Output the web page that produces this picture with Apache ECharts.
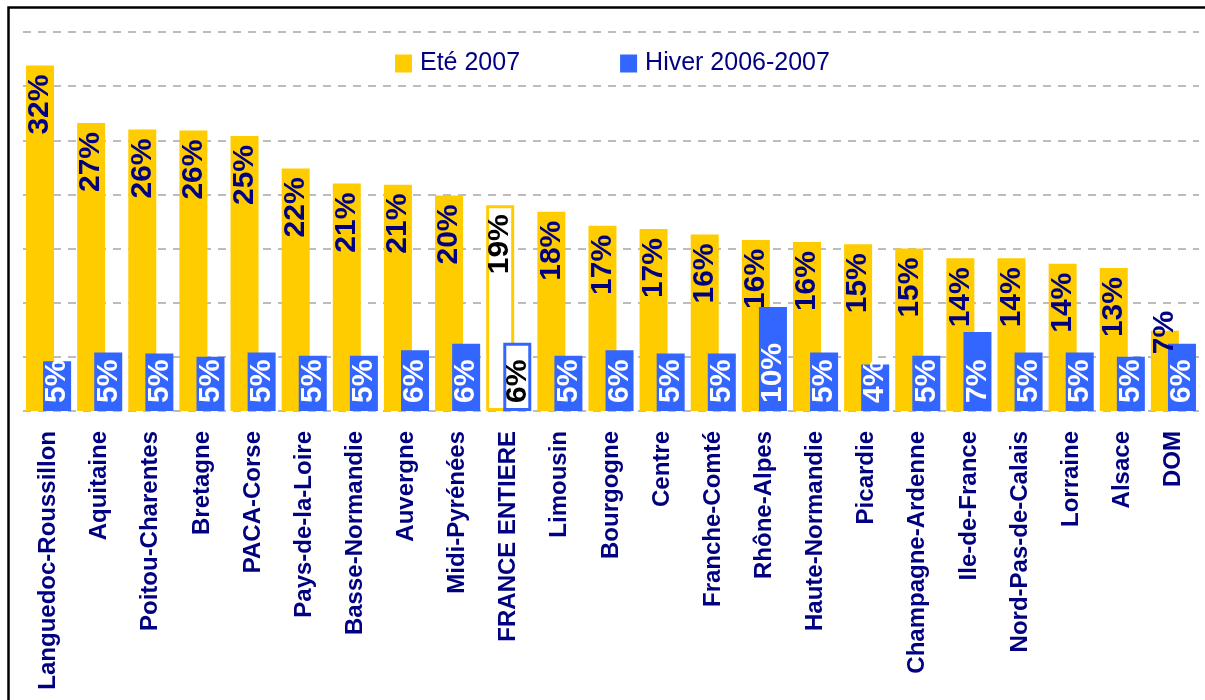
<!DOCTYPE html>
<html>
<head>
<meta charset="utf-8">
<script src="https://cdn.jsdelivr.net/npm/echarts@6/dist/echarts.min.js"></script>
<style>
  html, body { margin: 0; padding: 0; background: #fff; }
  #chart { width: 1205px; height: 700px; }
</style>
</head>
<body>
<div id="chart"></div>
<script>
// régions, triées par taux d'été
const regions = [
  "Languedoc-Roussillon", "Aquitaine", "Poitou-Charentes", "Bretagne", "PACA-Corse",
  "Pays-de-la-Loire", "Basse-Normandie", "Auvergne", "Midi-Pyrénées", "FRANCE ENTIERE",
  "Limousin", "Bourgogne", "Centre", "Franche-Comté", "Rhône-Alpes", "Haute-Normandie",
  "Picardie", "Champagne-Ardenne", "Ile-de-France", "Nord-Pas-de-Calais", "Lorraine",
  "Alsace", "DOM"
];
const ete2007 = [31.9, 26.6, 26.0, 25.9, 25.4, 22.4, 21.0, 20.9, 19.9, 19.0, 18.4, 17.1,
  16.8, 16.3, 15.8, 15.6, 15.4, 15.0, 14.1, 14.1, 13.6, 13.2, 7.4];
const hiver2007 = [4.6, 5.4, 5.3, 5.0, 5.4, 5.1, 5.1, 5.6, 6.2, 6.3, 5.1, 5.6,
  5.3, 5.3, 9.6, 5.4, 4.3, 5.1, 7.3, 5.4, 5.4, 5.0, 6.2];
const yTicks = [0, 5, 10, 15, 20, 25, 30, 35];

const YELLOW = "#FFCC00";
const BLUE = "#3366FF";
const NAVY = "#000080";
const FONT = "Liberation Sans, Arial, sans-serif";
const TOTAL = "FRANCE ENTIERE";

const myChart = echarts.init(document.getElementById("chart"));

// la barre France entière est vide, juste bordée
function bars(values, color) {
  return values.map((v, i) => {
    if (regions[i] !== TOTAL) return v;
    return {
      value: v,
      itemStyle: { color: "#fff", borderColor: color, borderWidth: 3 },
      label: { color: "#000" }
    };
  });
}

const eteData = bars(ete2007, YELLOW);
// étiquette du DOM qui dépasse de la barre
eteData[regions.indexOf("DOM")] = { value: ete2007[22], label: { distance: -20 } };

myChart.setOption({
  animation: false,
  textStyle: { fontFamily: FONT },
  graphic: [{
    type: "rect",
    shape: { x: 8.5, y: 7.5, width: 1400, height: 900 },
    style: { fill: "none", stroke: "#000", lineWidth: 2.5 },
    silent: true
  }],
  legend: {
    left: 390,
    top: 46,
    itemWidth: 17,
    itemHeight: 18,
    itemGap: 100,
    icon: "rect",
    textStyle: { fontSize: 25, color: NAVY, fontFamily: FONT, padding: [0, 0, 0, 3] },
    data: ["Eté 2007", "Hiver 2006-2007"]
  },
  grid: { left: 23, right: 6, top: 32, bottom: 289 },
  xAxis: {
    type: "category",
    data: regions,
    axisLine: { show: false },
    axisTick: { show: false },
    axisLabel: {
      rotate: 90,
      margin: 20,
      interval: 0,
      fontSize: 24,
      fontWeight: "bold",
      color: NAVY,
      fontFamily: FONT
    }
  },
  yAxis: {
    type: "value",
    min: yTicks[0],
    max: yTicks[yTicks.length - 1],
    interval: 5,
    axisLabel: { show: false },
    axisLine: { show: false },
    axisTick: { show: false },
    splitLine: { lineStyle: { color: "#a6a6a6", width: 1.5, type: [8, 7] } }
  },
  series: [
    {
      name: "Eté 2007",
      type: "bar",
      data: eteData,
      barWidth: 28,
      barGap: "-39%",
      itemStyle: { color: YELLOW },
      label: {
        show: true,
        position: "insideTop",
        rotate: 90,
        align: "right",
        verticalAlign: "middle",
        distance: 9,
        fontSize: 30,
        fontWeight: "bold",
        color: NAVY,
        fontFamily: FONT,
        formatter: p => Math.round(p.value) + "%"
      }
    },
    {
      name: "Hiver 2006-2007",
      type: "bar",
      data: bars(hiver2007, BLUE),
      barWidth: 28,
      itemStyle: { color: BLUE },
      label: {
        show: true,
        position: "insideBottom",
        rotate: 90,
        align: "left",
        verticalAlign: "middle",
        distance: 8,
        fontSize: 30,
        fontWeight: "bold",
        color: "#fff",
        fontFamily: FONT,
        formatter: p => Math.round(p.value) + "%"
      }
    }
  ]
});
</script>
</body>
</html>
